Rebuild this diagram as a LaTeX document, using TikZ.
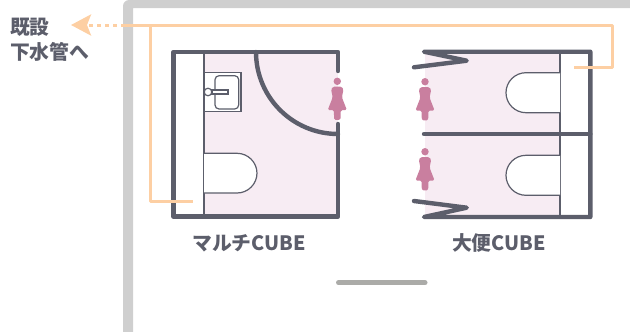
\documentclass[tikz,border=0pt]{standalone}
\usepackage{fontspec}
\setmainfont{Noto Sans CJK JP}
\usetikzlibrary{arrows.meta}
\definecolor{wallgray}{HTML}{5C5E6B}
\definecolor{framegray}{HTML}{CFCFCF}
\definecolor{bargray}{HTML}{ABABA8}
\definecolor{roompink}{HTML}{F7ECF3}
\definecolor{figpink}{HTML}{C97F9F}
\definecolor{pipeorange}{HTML}{FDCFA3}
\tikzset{
    woman/.pic={
        \fill[figpink] (0,0) circle (3.7);
        \fill[figpink, rounded corners=1.5pt] (-4.5,5.4) -- (4.5,5.4) -- (6.2,8) -- (4.6,16) -- (9.6,28.8) -- (3.4,28.8) -- (3.2,38.6) -- (-3.2,38.6) -- (-3.4,28.8) -- (-9.6,28.8) -- (-4.6,16) -- (-6.2,8) -- cycle;
    }
}
\begin{document}
\begin{tikzpicture}[
    x=1pt, y=-1pt,
    wall/.style={draw=wallgray, line width=4.4pt, line cap=round, line join=round},
    thinline/.style={draw=wallgray, line width=1.2pt},
    room/.style={fill=roompink},
    toilet/.style={draw=wallgray, line width=1.2pt, fill=white, rounded corners=20pt},
    pipe/.style={draw=pipeorange, line width=3pt, line join=round},
    caption/.style={font=\bfseries\fontsize{19.8}{25}\selectfont, text=wallgray, inner sep=0pt}
]
    \useasboundingbox (0,0) rectangle (630,332);

    % building frame
    \fill[framegray] (123,332) -- (123,6) arc[start angle=180, end angle=270, radius=6] -- (630,0) -- (630,8) -- (133,8) -- (133,332) -- cycle;

    % multi cube
    \fill[room] (204,52) rectangle (338,216.5);
    \draw[thinline] (204,52) -- (204,216.5);
    \draw[thinline, fill=white] (204,72.3) rectangle (241,111.7);
    \draw[thinline, rounded corners=4pt] (215,75.7) rectangle (238.7,109);
    \draw[thinline, fill=white] (212,90) rectangle (228,94);
    \draw[thinline, fill=white] (208,92) circle (3.8);
    \draw[toilet] (204,153.3) -- (257,153.3) -- (257,193) -- (204,193);
    \draw[wall] (338,71) -- (338,52) -- (173.5,52) -- (173.5,216.5) -- (338,216.5) -- (338,124);
    \draw[wall] (256,52) arc[start angle=180, end angle=90, radius=82];
    \pic at (337.3,81.3) {woman};

    % toilet cube
    \fill[room] (425,52) rectangle (560,217);
    \draw[thinline] (560,52) -- (560,217);
    \draw[toilet] (560,72.7) -- (506,72.7) -- (506,112.7) -- (560,112.7);
    \draw[toilet] (560,155.3) -- (506,155.3) -- (506,195.3) -- (560,195.3);
    \draw[wall] (414,67.3) -- (466.7,60.7) -- (424,51.7) -- (590.3,51.7) -- (590.3,217) -- (424,217) -- (466.7,207.7) -- (414,201);
    \draw[wall] (424,134) -- (590.3,134);
    \pic at (425,81.7) {woman};
    \pic at (425,151.7) {woman};

    % drain pipes
    \coordinate (frameedge) at (125,25);
    \coordinate (arrowend) at (71,25);
    \coordinate (junction) at (150,25);
    \coordinate (corner1) at (612.7,25);
    \coordinate (corner2) at (612.7,67.3);
    \coordinate (toiletpipe) at (574,67.3);
    \coordinate (corner3) at (150,201);
    \coordinate (multipipe) at (193,201);
    \draw[pipe] (frameedge) -- (corner1) -- (corner2) -- (toiletpipe);
    \draw[pipe] (junction) -- (corner3) -- (multipipe);
    \draw[pipe, dash pattern=on 4pt off 4pt, -{Stealth[length=20pt, width=21pt, inset=4pt]}] (frameedge) -- (arrowend);

    % labels
    \node[caption, align=left, anchor=north west] (drainlabel) at (10,17.5) {既設\\下水管へ};
    \node[caption] (multilabel) at (249,243) {マルチCUBE};
    \node[caption] (toiletlabel) at (499,243) {大便CUBE};

    % scroll bar
    \draw[draw=bargray, line width=5pt, line cap=round] (338.5,282.7) -- (425,282.7);
\end{tikzpicture}
\end{document}
